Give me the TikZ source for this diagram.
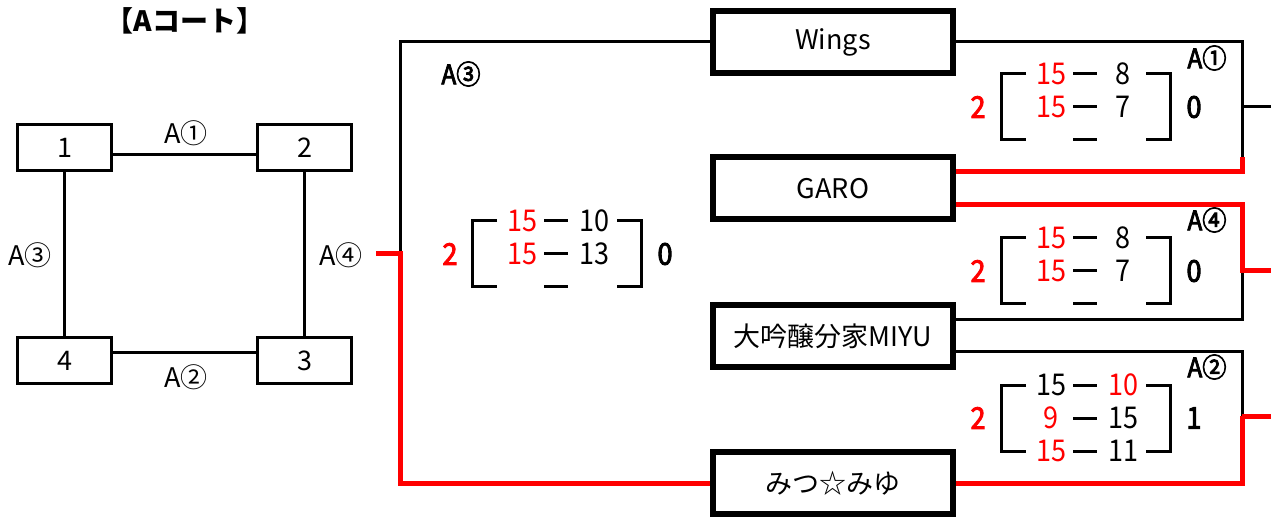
\documentclass[tikz,border=0pt]{standalone}
\usepackage{fontspec}
\setmainfont{Noto Sans CJK JP}
\newfontfamily\narrowfont[FakeStretch=0.9]{Noto Sans CJK JP}
\newfontfamily\heavyfont[FakeStretch=0.9,FakeBold=3]{Noto Sans CJK JP}
\usetikzlibrary{calc}
\definecolor{winred}{RGB}{255,0,0}
\newcommand\titlesize{\fontsize{28}{32}\selectfont}
\newcommand\teamsize{\fontsize{27}{30}\selectfont}
\newcommand\scoresize{\narrowfont\fontsize{30}{32}\selectfont}
\newcommand\totalsize{\heavyfont\fontsize{30}{32}\selectfont}
\newcommand\lblsize{\fontsize{27}{30}\selectfont}
% frame of one score block: left x, top y
\def\scoreframe(#1,#2){%
  \draw[frame] (#1+25,#2) -- (#1,#2) -- (#1,#2+66) -- (#1+25,#2+66);
  \draw[frame] (#1+145,#2) -- (#1+169,#2) -- (#1+169,#2+66) -- (#1+145,#2+66);
  \foreach \dy in {0,33,66} \draw[frame] (#1+72,#2+\dy) -- (#1+96,#2+\dy);
}

\begin{document}
\begin{tikzpicture}[x=1pt,y=-1pt,
  court/.style={draw, line width=3pt, minimum width=94pt, minimum height=46pt, inner sep=0pt, font=\teamsize},
  team/.style={draw, line width=6pt, minimum width=240pt, minimum height=62pt, inner sep=0pt, font=\teamsize},
  link/.style={line width=3pt},
  win/.style={line width=5pt, winred},
  frame/.style={line width=3pt},
  score/.style={font=\scoresize, inner sep=0pt},
  total/.style={font=\totalsize, inner sep=0pt},
  lbl/.style={font=\lblsize, inner sep=0pt},
  blocklbl/.style={font=\heavyfont\lblsize, inner sep=0pt}]
	%%%%% START %%%%%
	\fill[white] (0,0) rectangle (1271,518);
	\useasboundingbox (0,0) rectangle (1271,518);
	
	%%%%% court %%%%%
	\node[font=\titlesize\bfseries] (title) at (185,21) {【Aコート】};
	\node[court] (c1) at (64.5,147.5) {1};
	\node[court] (c2) at (304.5,147.5) {2};
	\node[court] (c3) at (304.5,360.5) {3};
	\node[court] (c4) at (64.5,360.5) {4};
	\draw[link] ([yshift=-7pt]c1.east) -- ([yshift=-7pt]c2.west);
	\draw[link] ([yshift=8pt]c4.east) -- ([yshift=8pt]c3.west);
	\draw[link] (c1.south) -- (c4.north);
	\draw[link] (c2.south) -- (c3.north);
	\node[lbl] (l1) at (186,133) {A①};
	\node[lbl] (l2) at (186,377) {A②};
	\node[lbl] (l3) at (30,255) {A③};
	\node[lbl] (l4) at (341,255) {A④};
	
	%%%%% teams %%%%%
	\node[team] (wings) at (833,42) {Wings};
	\node[team] (garo) at (833,188.5) {GARO};
	\node[team] (miyu) at (833,336) {大吟醸分家MIYU};
	\node[team] (mitsu) at (833,483) {みつ☆みゆ};
	
	%%%%% A3 %%%%%
	\coordinate (a3mid) at (400,254);
	\coordinate (a4feed) at (376,254);
	\draw[link] (wings.west) -| (a3mid);
	\draw[win] (a4feed) -- (a3mid) |- (mitsu.west);
	
	%%%%% A1 %%%%%
	\coordinate (a1turn) at (1242,157);
	\coordinate (a1out) at (1242,107);
	\coordinate (a1end) at (1271,107);
	\draw[link] (wings.east) -| (a1turn);
	\draw[link] (a1out) -- (a1end);
	\draw[win] (a1turn) |- ([yshift=16.5pt]garo.east);
	
	%%%%% A4 %%%%%
	\coordinate (a4out) at (1242,271);
	\coordinate (a4end) at (1271,271);
	\draw[link] (a4out) |- ([yshift=16pt]miyu.east);
	\draw[win] ([yshift=-16.5pt]garo.east) -| (a4out) -- (a4end);
	
	%%%%% A2 %%%%%
	\coordinate (a2out) at (1242,416);
	\coordinate (a2end) at (1271,416);
	\draw[link] ([yshift=-16pt]miyu.east) -| (a2out);
	\draw[win] (a2out) |- (mitsu.east);
	\draw[win] (a2out) -- (a2end);
	
	%%%%% scores %%%%%
	\scoreframe(472,221)
	\node[blocklbl] (a3lbl) at (461,74) {A③};
	\node[total, winred] (a3tl) at (450,254) {2};
	\node[total] (a3tr) at (665,254) {0};
	\node[score, winred] (a3s1l) at (522,221) {15};
	\node[score] (a3s1r) at (594,221) {10};
	\node[score, winred] (a3s2l) at (522,254) {15};
	\node[score] (a3s2r) at (594,254) {13};
	
	\scoreframe(1001,74)
	\node[blocklbl] (a1lbl) at (1207,58) {A①};
	\node[total, winred] (a1tl) at (978,107) {2};
	\node[total] (a1tr) at (1194,107) {0};
	\node[score, winred] (a1s1l) at (1051,74) {15};
	\node[score] (a1s1r) at (1123,74) {8};
	\node[score, winred] (a1s2l) at (1051,107) {15};
	\node[score] (a1s2r) at (1123,107) {7};
	
	\scoreframe(1001,238)
	\node[blocklbl] (a4lbl) at (1207,220) {A④};
	\node[total, winred] (a4tl) at (978,271) {2};
	\node[total] (a4tr) at (1194,271) {0};
	\node[score, winred] (a4s1l) at (1051,238) {15};
	\node[score] (a4s1r) at (1123,238) {8};
	\node[score, winred] (a4s2l) at (1051,271) {15};
	\node[score] (a4s2r) at (1123,271) {7};
	
	\scoreframe(1001,385)
	\node[blocklbl] (a2lbl) at (1207,367) {A②};
	\node[total, winred] (a2tl) at (978,418) {2};
	\node[total] (a2tr) at (1194,418) {1};
	\node[score] (a2s1l) at (1051,385) {15};
	\node[score, winred] (a2s1r) at (1123,385) {10};
	\node[score, winred] (a2s2l) at (1051,418) {9};
	\node[score] (a2s2r) at (1123,418) {15};
	\node[score, winred] (a2s3l) at (1051,451) {15};
	\node[score] (a2s3r) at (1123,451) {11};
	
	%%%%% END %%%%%
\end{tikzpicture}
\end{document}
